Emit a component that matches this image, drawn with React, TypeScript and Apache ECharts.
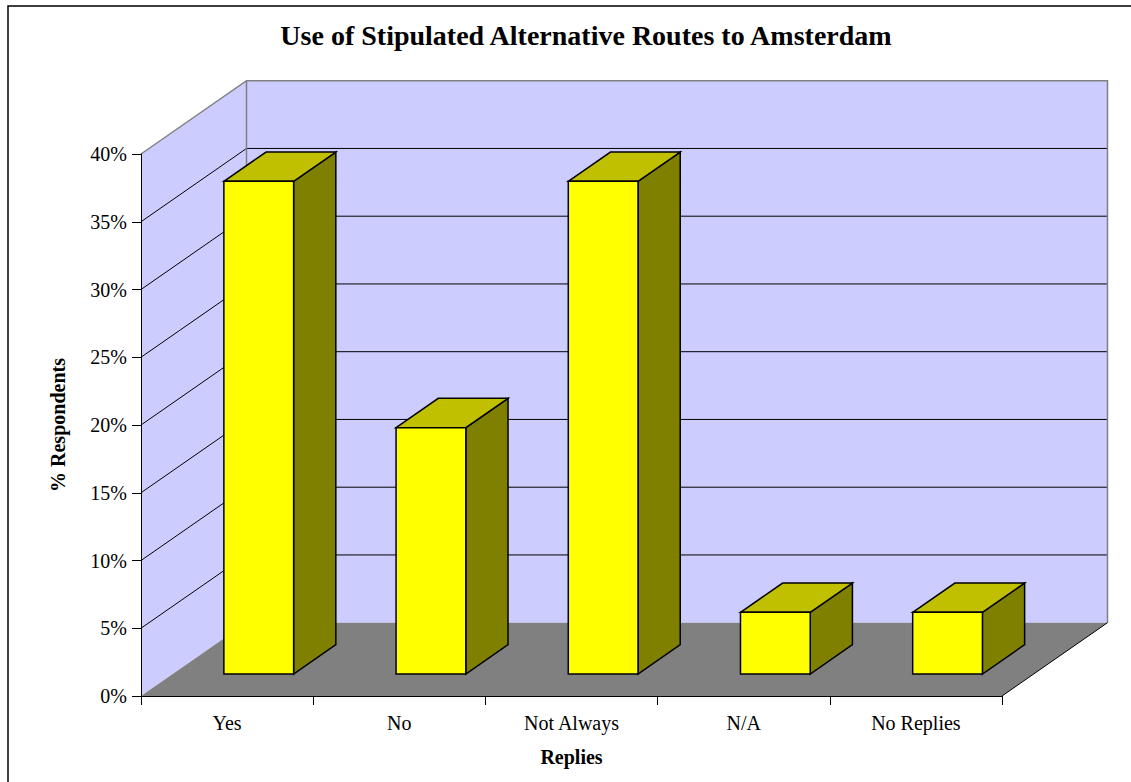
import React, { useEffect, useRef } from "react";
import * as echarts from "echarts";

// Survey replies and share of respondents (%)
const CATEGORIES = ["Yes", "No", "Not Always", "N/A", "No Replies"];
const PERCENT_RESPONDENTS = [36.36, 18.18, 36.36, 4.55, 4.55];
const Y_AXIS_MAX = 40;
const Y_AXIS_STEP = 5;

// 3D look: how far the back wall sits from the front plane (px)
const DEPTH_DX = 105.5;
const DEPTH_DY = -73.3;
// bar footprint as fractions of the category band / plot depth
const BAR_WIDTH = 0.405;
const BAR_DEPTH_FRONT = 0.3;
const BAR_DEPTH_BACK = 0.7;

const FONT = "'Liberation Serif', 'Times New Roman', serif";

const WALL_FILL = "#CCCCFF";
const FLOOR_FILL = "#808080";
const EDGE_GREY = "#808080";

function renderWalls(params: any, api: any) {
  const band = api.size([1, 0])[0];
  const x0 = api.coord([0, 0])[0] - band / 2;
  const x1 = x0 + CATEGORIES.length * band;
  const yBase = api.coord([0, 0])[1];
  const yTop = api.coord([0, Y_AXIS_MAX])[1];
  const dx = DEPTH_DX;
  const dy = DEPTH_DY;

  const children: any[] = [
    {
      type: "polygon",
      shape: { points: [[x0, yBase], [x0, yTop], [x0 + dx, yTop + dy], [x0 + dx, yBase + dy]] },
      style: { fill: WALL_FILL, stroke: null },
    },
    {
      type: "polygon",
      shape: { points: [[x0 + dx, yTop + dy], [x1 + dx, yTop + dy], [x1 + dx, yBase + dy], [x0 + dx, yBase + dy]] },
      style: { fill: WALL_FILL, stroke: null },
    },
    {
      type: "polygon",
      shape: { points: [[x0, yBase], [x1, yBase], [x1 + dx, yBase + dy], [x0 + dx, yBase + dy]] },
      style: { fill: FLOOR_FILL, stroke: null },
    },
  ];

  for (let v = Y_AXIS_STEP; v < Y_AXIS_MAX; v += Y_AXIS_STEP) {
    const y = api.coord([0, v])[1];
    children.push({
      type: "line",
      shape: { x1: x0, y1: y, x2: x0 + dx, y2: y + dy },
      style: { stroke: "#000", lineWidth: 1 },
    });
    children.push({
      type: "line",
      shape: { x1: x0 + dx, y1: y + dy, x2: x1 + dx, y2: y + dy },
      style: { stroke: "#000", lineWidth: 1 },
    });
  }

  // wall edges
  children.push(
    {
      type: "polyline",
      shape: { points: [[x0, yTop], [x0 + dx, yTop + dy], [x1 + dx, yTop + dy], [x1 + dx, yBase + dy]] },
      style: { stroke: EDGE_GREY, lineWidth: 1.5, fill: null },
    },
    {
      type: "line",
      shape: { x1: x0 + dx, y1: yTop + dy, x2: x0 + dx, y2: yBase + dy },
      style: { stroke: EDGE_GREY, lineWidth: 1.5 },
    },
    {
      type: "line",
      shape: { x1: x1, y1: yBase, x2: x1 + dx, y2: yBase + dy },
      style: { stroke: "#000", lineWidth: 1 },
    }
  );

  return { type: "group", children };
}

function renderBar(params: any, api: any) {
  const idx = api.value(0);
  const val = api.value(1);
  const top = api.coord([idx, val]);
  const base = api.coord([idx, 0]);
  const band = api.size([1, 0])[0];
  const w = band * BAR_WIDTH;

  const xl = top[0] - w / 2 + DEPTH_DX * BAR_DEPTH_FRONT;
  const xr = xl + w;
  const yT = top[1] + DEPTH_DY * BAR_DEPTH_FRONT;
  const yB = base[1] + DEPTH_DY * BAR_DEPTH_FRONT;
  const ddx = DEPTH_DX * (BAR_DEPTH_BACK - BAR_DEPTH_FRONT);
  const ddy = DEPTH_DY * (BAR_DEPTH_BACK - BAR_DEPTH_FRONT);
  const stroke = { stroke: "#000", lineWidth: 1.5, lineJoin: "miter" };

  return {
    type: "group",
    children: [
      {
        type: "polygon",
        shape: { points: [[xr, yT], [xr + ddx, yT + ddy], [xr + ddx, yB + ddy], [xr, yB]] },
        style: { fill: "#808000", ...stroke },
      },
      {
        type: "polygon",
        shape: { points: [[xl, yT], [xl + ddx, yT + ddy], [xr + ddx, yT + ddy], [xr, yT]] },
        style: { fill: "#C0C000", ...stroke },
      },
      {
        type: "polygon",
        shape: { points: [[xl, yT], [xr, yT], [xr, yB], [xl, yB]] },
        style: { fill: "#FFFF00", ...stroke },
      },
    ],
  };
}

export default function App() {
  const ref = useRef<HTMLDivElement>(null);

  useEffect(() => {
    if (!ref.current) return;
    const chart = echarts.init(ref.current, undefined, { renderer: "svg" });
    chart.setOption({
      animation: false,
      backgroundColor: "#fff",
      title: {
        text: "Use of Stipulated Alternative Routes to Amsterdam",
        left: 581,
        top: 16,
        textAlign: "center",
        textStyle: { fontFamily: FONT, fontWeight: "bold", fontSize: 28, color: "#000" },
      },
      graphic: [
        {
          type: "rect",
          shape: { x: 8, y: 6, width: 1200, height: 900 },
          style: { fill: null, stroke: "#000", lineWidth: 1.5 },
          silent: true,
        },
      ],
      grid: { left: 141, top: 154, width: 861, height: 542 },
      xAxis: {
        type: "category",
        data: CATEGORIES,
        z: 10,
        name: "Replies",
        nameLocation: "middle",
        nameGap: 51,
        nameTextStyle: { fontFamily: FONT, fontWeight: "bold", fontSize: 20, color: "#000" },
        axisLine: { show: true, lineStyle: { color: "#000", width: 1 } },
        axisTick: { show: true, length: 9, lineStyle: { color: "#000" } },
        axisLabel: { fontFamily: FONT, fontSize: 20, color: "#000", margin: 17 },
        splitLine: { show: false },
      },
      yAxis: {
        type: "value",
        min: 0,
        max: Y_AXIS_MAX,
        interval: Y_AXIS_STEP,
        z: 10,
        name: "% Respondents",
        nameLocation: "middle",
        nameRotate: 90,
        nameGap: 73,
        nameTextStyle: { fontFamily: FONT, fontWeight: "bold", fontSize: 20, color: "#000" },
        axisLine: { show: true, lineStyle: { color: "#000", width: 1 } },
        axisTick: { show: true, length: 9, lineStyle: { color: "#000" } },
        axisLabel: { fontFamily: FONT, fontSize: 20, color: "#000", margin: 14, formatter: "{value}%" },
        splitLine: { show: false },
      },
      series: [
        {
          type: "custom",
          name: "walls",
          data: [[0]],
          clip: false,
          silent: true,
          z: 1,
          renderItem: renderWalls,
        },
        {
          type: "custom",
          name: "% Respondents",
          data: PERCENT_RESPONDENTS.map((v, i) => [i, v]),
          clip: false,
          z: 3,
          encode: { x: 0, y: 1 },
          renderItem: renderBar,
        },
      ],
    });
    return () => chart.dispose();
  }, []);

  return (
    <div
      ref={ref}
      style={{ position: "absolute", left: 0, top: 0, width: 1131, height: 782 }}
    />
  );
}
